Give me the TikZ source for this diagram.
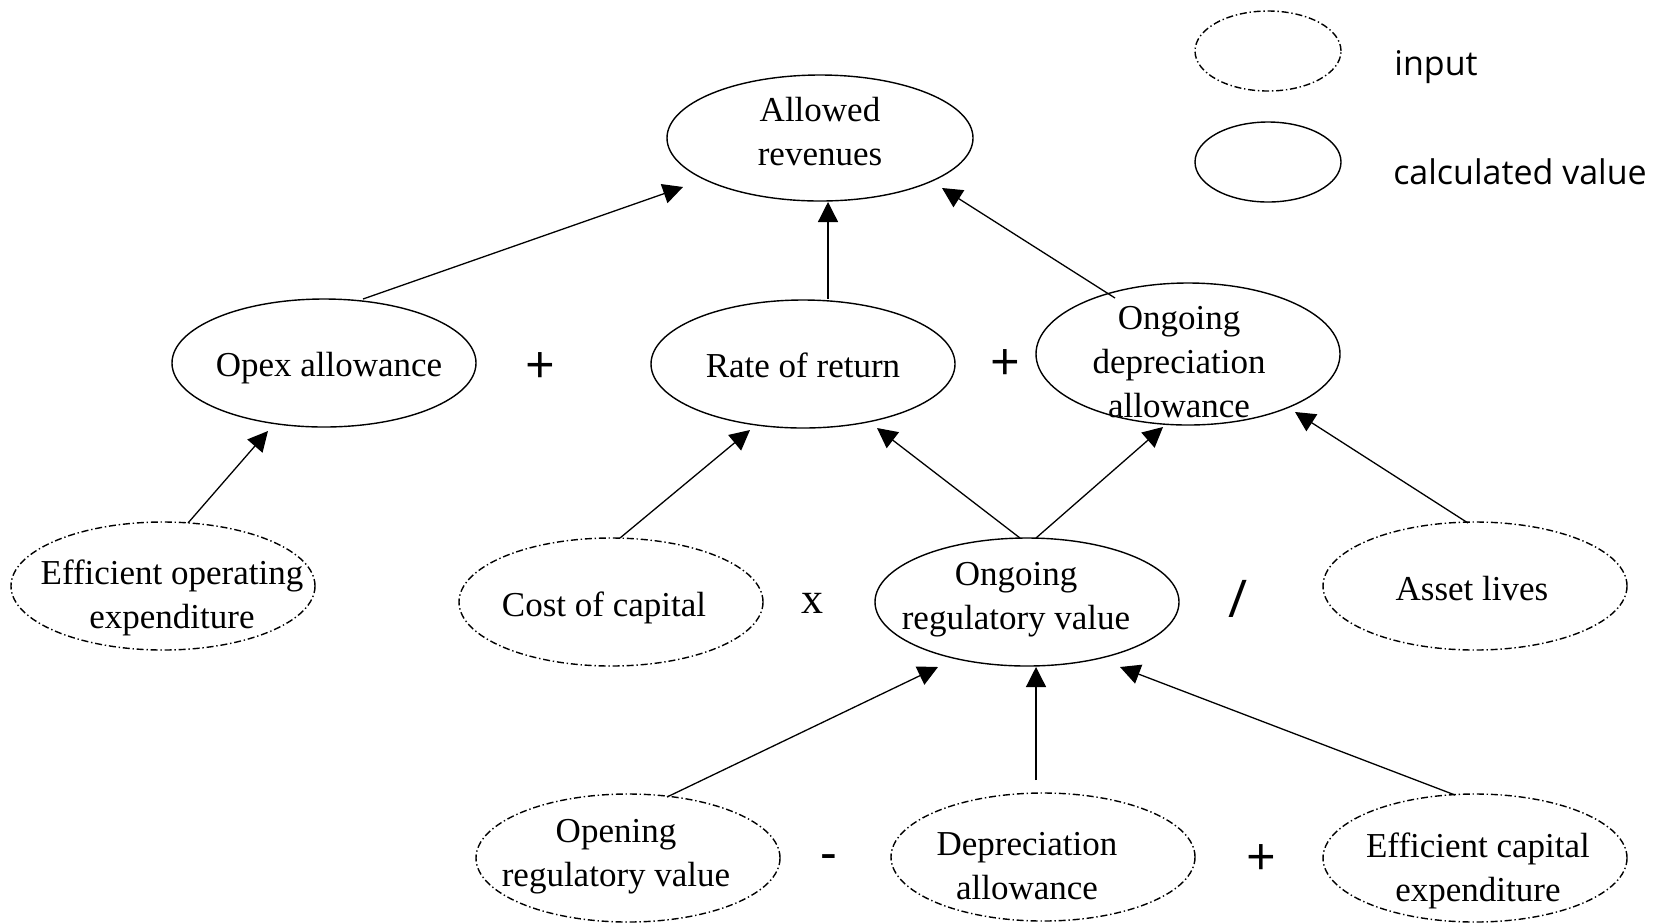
\documentclass[tikz,border=0pt]{standalone}
\usepackage{fontspec}
\setmainfont{Liberation Serif}
\newfontfamily\legfont{Open Sans}
\usetikzlibrary{shapes.geometric,arrows.meta,calc}
\begin{document}
\begin{tikzpicture}[x=0.5pt,y=-0.5pt,
  txt/.style={inner sep=0pt,align=center,font=\fontsize{17.5pt}{22pt}\selectfont},
  box/.style={ellipse,draw,line width=0.7pt,inner sep=0pt,
     minimum width=152pt,minimum height=64pt},
  inbox/.style={box,dash pattern=on 3.5pt off 1.4pt on 0.7pt off 1.4pt},
  calcbox/.style={box},
  arr/.style={line width=0.65pt,-{Triangle[length=10pt,width=10pt]}},
  op/.style={inner sep=0pt,font=\legfont\fontsize{26pt}{26pt}\selectfont},
  leg/.style={inner sep=0pt,font=\legfont\fontsize{17pt}{20pt}\selectfont}]
\useasboundingbox (0,0) rectangle (1663,923);
% nodes
\node[calcbox,minimum width=153pt,minimum height=63pt,
  label={[txt,yshift=3.2pt]center:Allowed\\revenues}] (allowed) at (820,138) {};
\node[calcbox,label={[txt,xshift=2.5pt,yshift=-2.6pt]center:Opex allowance}] (opex) at (324,363) {};
\node[calcbox,label={[txt,yshift=-0.5pt]center:Rate of return}] (rate) at (803,364) {};
\node[calcbox,minimum height=71pt,
  label={[txt,xshift=-4.5pt,yshift=-4pt]center:Ongoing\\depreciation\\allowance}] (odep) at (1188,354) {};
\node[inbox,label={[txt,xshift=4.5pt,yshift=-6.1pt]center:Efficient operating\\expenditure}] (effop) at (163,586) {};
\node[inbox,label={[txt,xshift=-3.5pt,yshift=-3.1pt]center:Cost of capital}] (cost) at (611,602) {};
\node[calcbox,label={[txt,xshift=-5.5pt,yshift=1.4pt]center:Ongoing\\regulatory value}] (orv) at (1027,602) {};
\node[inbox,label={[txt,xshift=-1.5pt,yshift=-1.5pt]center:Asset lives}] (asset) at (1475,586) {};
\node[inbox,label={[txt,xshift=-6pt,yshift=0.8pt]center:Opening\\regulatory value}] (open) at (628,858) {};
\node[inbox,label={[txt,xshift=-8pt,yshift=-4.5pt]center:Depreciation\\allowance}] (deprec) at (1043,857) {};
\node[inbox,label={[txt,xshift=1.5pt,yshift=-6.6pt]center:Efficient capital\\expenditure}] (capex) at (1475,858) {};
% legend
\node[inbox,minimum width=73pt,minimum height=40pt] (leginput) at (1268,51) {};
\node[calcbox,minimum width=73pt,minimum height=40pt] (legcalc) at (1268,162) {};
\node[leg] (legtinput) at (1436,67) {input};
\node[leg] (legtcalc) at (1520,172) {calculated value};
% operators
\node[op] (op1) at (540,368) {+};
\node[op] (op2) at (1005,365) {+};
\node[inner sep=0pt,font=\fontsize{22pt}{22pt}\selectfont] (op3) at (812,603) {x};
\node[op] (op4) at (1238,599) {/};
\node[op] (op5) at (829,863) {-};
\node[op] (op6) at (1261,860) {+};
% connectors
\draw[arr] ($(opex)+(39,-64)$) -- ($(allowed)+(-137,49)$);
\draw[arr] ($(rate)+(25,-65)$) -- ($(allowed)+(8,64)$);
\draw[arr] ($(odep)+(-73,-56)$) -- ($(allowed)+(122,50)$);
\draw[arr] ($(effop)+(25,-63)$) -- ($(opex)+(-56,68)$);
\draw[arr] ($(cost)+(9,-64)$) -- ($(rate)+(-53,66)$);
\draw[arr] ($(orv)+(-7,-64)$) -- ($(rate)+(74,64)$);
\draw[arr] ($(orv)+(9,-64)$) -- ($(odep)+(-25,73)$);
\draw[arr] ($(asset)+(-7,-63)$) -- ($(odep)+(107,58)$);
\draw[arr] ($(open)+(39,-61)$) -- ($(orv)+(-89,65)$);
\draw[arr] ($(deprec)+(-7,-77)$) -- ($(orv)+(9,65)$);
\draw[arr] ($(capex)+(-20,-63)$) -- ($(orv)+(93,65)$);
\end{tikzpicture}
\end{document}
